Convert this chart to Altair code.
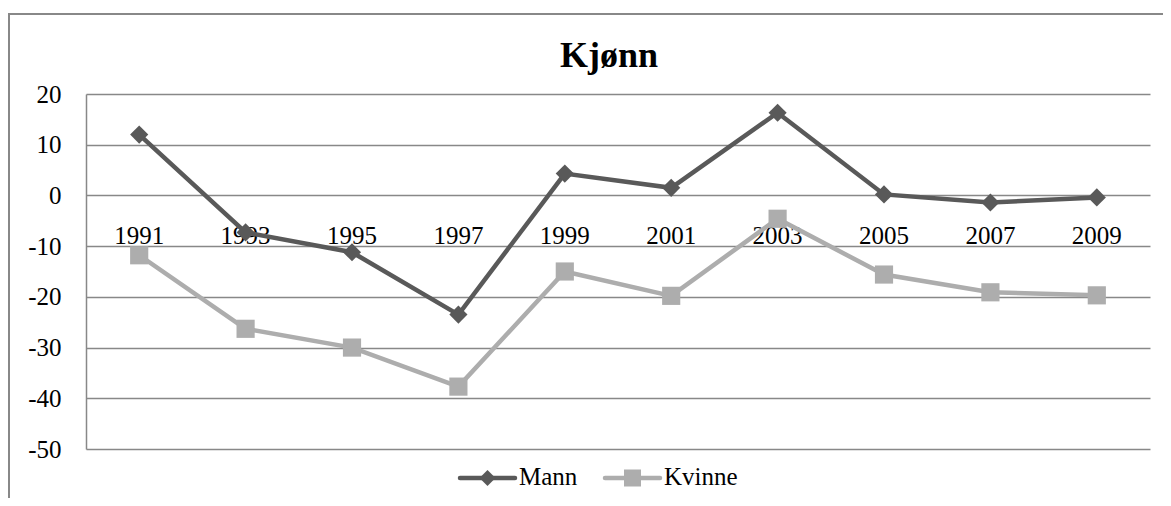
import altair as alt
import pandas as pd

years = ["1991", "1993", "1995", "1997", "1999", "2001", "2003", "2005", "2007", "2009"]
mann = [12.0, -7.3, -11.2, -23.5, 4.3, 1.5, 16.3, 0.2, -1.4, -0.4]
kvinne = [-11.8, -26.3, -30.0, -37.7, -15.0, -19.8, -4.6, -15.6, -19.1, -19.7]
series = ["Mann", "Kvinne"]
colors = ["#595959", "#ADADAD"]
shapes = ["diamond", "square"]
y_ticks = [20, 10, 0, -10, -20, -30, -40, -50]
title_text = "Kjønn"

FONT = "Liberation Serif"
GRID = "#888888"

rows = []
for y, m, k in zip(years, mann, kvinne):
    rows.append({"year": y, "series": "Mann", "value": m})
    rows.append({"year": y, "series": "Kvinne", "value": k})
df = pd.DataFrame(rows)
years_df = pd.DataFrame({"year": years})

x = alt.X("year:N", sort=years, scale=alt.Scale(type="point", padding=0.5), axis=None)
y = alt.Y(
    "value:Q",
    scale=alt.Scale(domain=[-50, 20], nice=False, zero=False),
    axis=alt.Axis(
        values=y_ticks, title=None, grid=True, ticks=False, domain=True,
        labelExpr="'' + datum.value",
        labelPadding=25, labelFont=FONT, labelFontSize=25, labelColor="black",
        gridColor=GRID, gridWidth=1.5, domainColor=GRID, domainWidth=1.5,
    ),
)

color = alt.Color("series:N", scale=alt.Scale(domain=series, range=colors), legend=None)

border = alt.Chart(pd.DataFrame({"a": [0]})).mark_rect(
    fillOpacity=0, stroke=GRID, strokeWidth=2
).encode(
    x=alt.value(-77), x2=alt.value(1500), y=alt.value(-80), y2=alt.value(900)
)

title = alt.Chart(pd.DataFrame({"t": [title_text]})).mark_text(
    font=FONT, fontSize=36, fontWeight="bold", align="center", baseline="alphabetic", color="black"
).encode(text="t:N", x=alt.value(523), y=alt.value(-27))

xlabels = alt.Chart(years_df).mark_text(
    font=FONT, fontSize=25, align="center", baseline="alphabetic", dy=-2, color="black"
).encode(x=x, y=alt.datum(-10), text="year:N")

lines = alt.Chart(df).mark_line(strokeWidth=4.5).encode(
    x=x, y=y, color=color, order=alt.Order("year:N")
)

points = alt.Chart(df).mark_point(filled=True, opacity=1, size=330).encode(
    x=x, y=y, color=color,
    shape=alt.Shape("series:N", scale=alt.Scale(domain=series, range=shapes), legend=None),
)

# manual legend (layout positions only)
legend_layers = []
leg_x0 = [374, 519]
leg_sizes = [256, 289]
sym_y = 384
for i, name in enumerate(series):
    ldf = pd.DataFrame({"series": [name]})
    x0 = leg_x0[i]
    legend_layers.append(
        alt.Chart(ldf).mark_rule(strokeWidth=4.5, strokeCap="round", color=colors[i]).encode(
            x=alt.value(x0), x2=alt.value(x0 + 55), y=alt.value(sym_y)
        )
    )
    legend_layers.append(
        alt.Chart(ldf).mark_point(filled=True, opacity=1, shape=shapes[i], size=leg_sizes[i], color=colors[i]).encode(
            x=alt.value(x0 + 27.5), y=alt.value(sym_y)
        )
    )
    legend_layers.append(
        alt.Chart(ldf).mark_text(font=FONT, fontSize=25, align="left", baseline="alphabetic", color="black").encode(
            x=alt.value(x0 + 59), y=alt.value(sym_y + 7), text="series:N"
        )
    )

chart = alt.layer(border, title, xlabels, lines, points, *legend_layers).properties(
    width=1064, height=355,
    padding={"left": 78, "top": 86, "right": 13, "bottom": 49},
    autosize=alt.AutoSizeParams(type="none"),
    background="white",
).configure_view(stroke=None)

chart.save("out.html", embed_options={"renderer": "svg", "actions": False})
